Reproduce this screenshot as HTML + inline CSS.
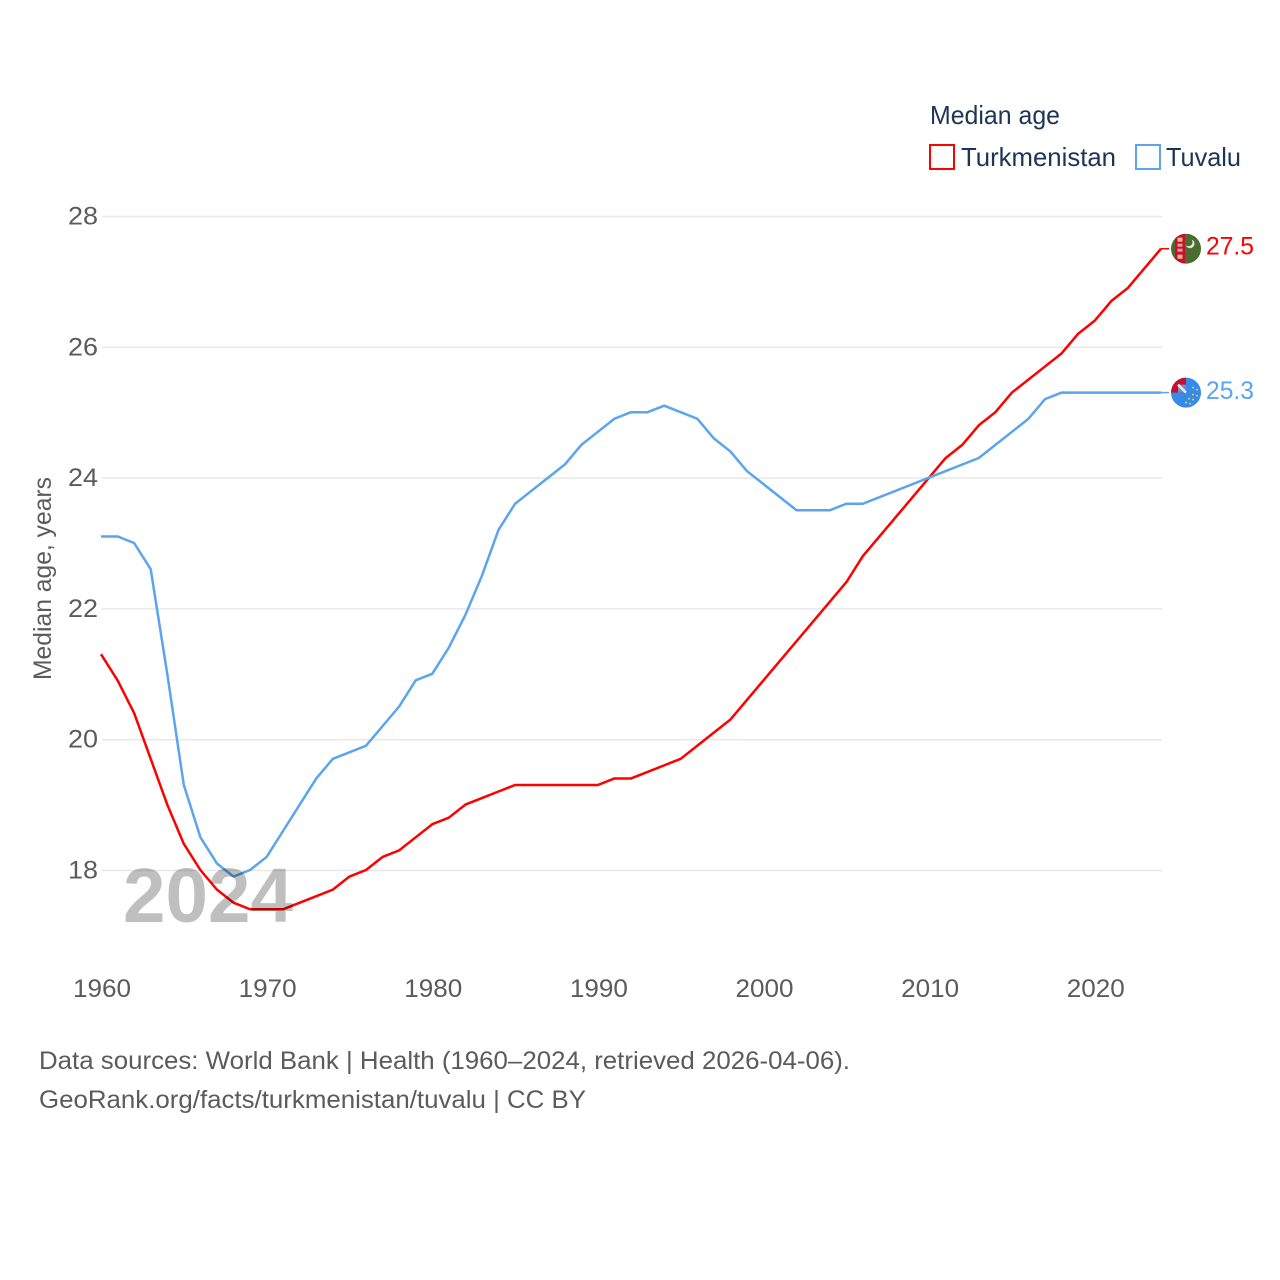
<!DOCTYPE html>
<html>
<head>
<meta charset="utf-8">
<title>Median age: Turkmenistan and Tuvalu</title>
<style>
html,body{margin:0;padding:0;background:#fff;width:1280px;height:1280px;overflow:hidden}
svg{display:block}
text{font-family:"Liberation Sans",sans-serif}
</style>
</head>
<body>
<svg id="chart" width="1280" height="1280" viewBox="0 0 1280 1280" xmlns="http://www.w3.org/2000/svg">
  <defs>
    <clipPath id="clip-tm"><circle cx="0" cy="0" r="15"/></clipPath>
    <clipPath id="clip-tv"><circle cx="0" cy="0" r="15"/></clipPath>
  </defs>
  <g id="grid"></g>
  <g id="yticks"></g>
  <g id="xticks"></g>
  <text transform="translate(51,680) rotate(-90)" font-size="25" fill="#5b5b5b" textLength="203" lengthAdjust="spacingAndGlyphs">Median age, years</text>
  <g id="series"></g>
  <text x="123" y="922" font-size="77" font-weight="700" fill="#000" fill-opacity="0.25" textLength="170" lengthAdjust="spacingAndGlyphs">2024</text>

  <g id="flag-tm" clip-path="url(#clip-tm)">
    <rect x="-15" y="-15" width="30" height="30" fill="#4b6b2f"/>
    <rect x="-11" y="-15" width="10" height="30" fill="#c8102e"/>
    <rect x="-8.5" y="-11" width="5" height="4" fill="#e9b98a"/>
    <rect x="-8.5" y="-5" width="5" height="3" fill="#d9a0a0"/>
    <rect x="-8.5" y="0" width="5" height="3" fill="#d9a0a0"/>
    <rect x="-8.5" y="6" width="5" height="4" fill="#e9b98a"/>
    <circle cx="4" cy="-5" r="4.5" fill="#dfe6d6"/>
    <circle cx="2.5" cy="-6.5" r="4" fill="#4b6b2f"/>
  </g>
  <g id="flag-tv" clip-path="url(#clip-tv)">
    <rect x="-15" y="-15" width="30" height="30" fill="#368ae8"/>
    <rect x="-15" y="-15" width="15" height="15" fill="#c8102e"/>
    <rect x="-8" y="-8" width="8" height="8" fill="#6f8fc8"/>
    <path d="M-8 -8 L0 0" stroke="#f2e8ea" stroke-width="2.5"/>
    <circle cx="7" cy="-5" r="1" fill="#e8c95a"/>
    <circle cx="11" cy="-3" r="1" fill="#e8c95a"/>
    <circle cx="7" cy="2" r="1" fill="#e8c95a"/>
    <circle cx="11" cy="3" r="1" fill="#e8c95a"/>
    <circle cx="3" cy="6" r="1" fill="#e8c95a"/>
    <circle cx="7" cy="7" r="1" fill="#e8c95a"/>
    <circle cx="0" cy="10" r="1" fill="#e8c95a"/>
    <circle cx="4" cy="11" r="1" fill="#e8c95a"/>
  </g>
  <text id="end-tm" x="1206" font-size="25" fill="#ff0000" textLength="48" lengthAdjust="spacingAndGlyphs"></text>
  <text id="end-tv" x="1206" font-size="25" fill="#5ba4ee" textLength="48" lengthAdjust="spacingAndGlyphs"></text>

  <text x="930" y="124" font-size="26" fill="#1b3557" textLength="130" lengthAdjust="spacingAndGlyphs">Median age</text>
  <g>
    <rect x="930" y="145" width="24" height="24" fill="#fff" stroke="#ff0000" stroke-width="2"/>
    <text x="961" y="166" font-size="26" fill="#1b3557" textLength="155" lengthAdjust="spacingAndGlyphs">Turkmenistan</text>
  </g>
  <g>
    <rect x="1136" y="145" width="24" height="24" fill="#fff" stroke="#5ba4ee" stroke-width="2"/>
    <text x="1166" y="166" font-size="26" fill="#1b3557" textLength="75" lengthAdjust="spacingAndGlyphs">Tuvalu</text>
  </g>

  <text x="39" y="1069" font-size="25" fill="#5b5b5b" textLength="811" lengthAdjust="spacingAndGlyphs">Data sources: World Bank | Health (1960–2024, retrieved 2026-04-06).</text>
  <text x="39" y="1108" font-size="25" fill="#5b5b5b" textLength="547" lengthAdjust="spacingAndGlyphs">GeoRank.org/facts/turkmenistan/tuvalu | CC BY</text>
</svg>
<script>
const startYear = 1960;
const turkmenistan = [21.3,20.9,20.4,19.7,19.0,18.4,18.0,17.7,17.5,17.4,17.4,17.4,17.5,17.6,17.7,17.9,18.0,18.2,18.3,18.5,18.7,18.8,19.0,19.1,19.2,19.3,19.3,19.3,19.3,19.3,19.3,19.4,19.4,19.5,19.6,19.7,19.9,20.1,20.3,20.6,20.9,21.2,21.5,21.8,22.1,22.4,22.8,23.1,23.4,23.7,24.0,24.3,24.5,24.8,25.0,25.3,25.5,25.7,25.9,26.2,26.4,26.7,26.9,27.2,27.5];
const tuvalu = [23.1,23.1,23.0,22.6,21.0,19.3,18.5,18.1,17.9,18.0,18.2,18.6,19.0,19.4,19.7,19.8,19.9,20.2,20.5,20.9,21.0,21.4,21.9,22.5,23.2,23.6,23.8,24.0,24.2,24.5,24.7,24.9,25.0,25.0,25.1,25.0,24.9,24.6,24.4,24.1,23.9,23.7,23.5,23.5,23.5,23.6,23.6,23.7,23.8,23.9,24.0,24.1,24.2,24.3,24.5,24.7,24.9,25.2,25.3,25.3,25.3,25.3,25.3,25.3,25.3];
const yTickValues = [18,20,22,24,26,28];
const xTickValues = [1960,1970,1980,1990,2000,2010,2020];

const NS = 'http://www.w3.org/2000/svg';
const xScale = function (year) { return 101 + (year - 1960) * 16.5625; };
const yScale = function (v) { return 870 - (v - 18) * 65.4; };

const gridG = document.getElementById('grid');
const yG = document.getElementById('yticks');
const xG = document.getElementById('xticks');
const seriesG = document.getElementById('series');

yTickValues.forEach(function (v) {
  const line = document.createElementNS(NS, 'line');
  
  
  line.setAttribute('x1', 102);
  line.setAttribute('x2', 1162);
  line.setAttribute('y1', yScale(v) + 0.5);
  line.setAttribute('y2', yScale(v) + 0.5);
  line.setAttribute('stroke', '#e8e8e8');
  line.setAttribute('stroke-width', '1.5');
  gridG.appendChild(line);

  const t = document.createElementNS(NS, 'text');
  
  
  t.setAttribute('x', 98);
  t.setAttribute('y', yScale(v) + 8.5);
  t.setAttribute('text-anchor', 'end');
  t.setAttribute('font-size', '25');
  t.setAttribute('textLength', '30');
  t.setAttribute('lengthAdjust', 'spacingAndGlyphs');
  t.setAttribute('fill', '#5b5b5b');
  t.textContent = String(v);
  yG.appendChild(t);
});

xTickValues.forEach(function (yr) {
  const t = document.createElementNS(NS, 'text');
  
  
  t.setAttribute('x', xScale(yr) + 1);
  t.setAttribute('y', 997);
  t.setAttribute('text-anchor', 'middle');
  t.setAttribute('font-size', '25');
  t.setAttribute('textLength', '58');
  t.setAttribute('lengthAdjust', 'spacingAndGlyphs');
  t.setAttribute('fill', '#5b5b5b');
  t.textContent = String(yr);
  xG.appendChild(t);
});

function drawSeries(values, color, name) {
  const pts = values.map(function (v, i) {
    return xScale(startYear + i).toFixed(2) + ',' + yScale(v).toFixed(2);
  }).join(' ');
  const line = document.createElementNS(NS, 'polyline');
  
  
  line.setAttribute('points', pts);
  line.setAttribute('fill', 'none');
  line.setAttribute('stroke', color);
  line.setAttribute('stroke-width', '2.5');
  line.setAttribute('stroke-linejoin', 'round');
  seriesG.appendChild(line);

  const lastV = values[values.length - 1];
  const lastX = xScale(startYear + values.length - 1);
  const conn = document.createElementNS(NS, 'line');
  
  
  conn.setAttribute('x1', lastX);
  conn.setAttribute('x2', lastX + 8);
  conn.setAttribute('y1', yScale(lastV));
  conn.setAttribute('y2', yScale(lastV));
  conn.setAttribute('stroke', color);
  conn.setAttribute('stroke-width', '1.5');
  seriesG.appendChild(conn);
}
drawSeries(turkmenistan, '#ff0000', 'turkmenistan');
drawSeries(tuvalu, '#5ba4ee', 'tuvalu');

function placeEnd(values, flagId, labelId, offset) {
  const v = values[values.length - 1];
  document.getElementById(flagId).setAttribute('transform', 'translate(1186,' + yScale(v) + ')');
  const lab = document.getElementById(labelId);
  lab.setAttribute('y', yScale(v) + offset);
  lab.textContent = v.toFixed(1);
}
placeEnd(turkmenistan, 'flag-tm', 'end-tm', 6);
placeEnd(tuvalu, 'flag-tv', 'end-tv', 6.5);
</script>
</body>
</html>
